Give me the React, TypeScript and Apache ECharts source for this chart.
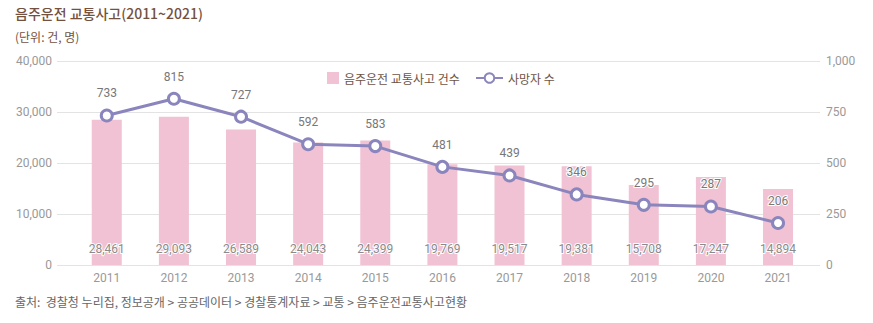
import React, { useEffect, useRef } from "react";
import * as echarts from "echarts";

const years = ["2011", "2012", "2013", "2014", "2015", "2016", "2017", "2018", "2019", "2020", "2021"];
const accidents = [28461, 29093, 26589, 24043, 24399, 19769, 19517, 19381, 15708, 17247, 14894];
const deaths = [733, 815, 727, 592, 583, 481, 439, 346, 295, 287, 206];
const leftTicks = { min: 0, max: 40000, interval: 10000 };
const rightTicks = { min: 0, max: 1000, interval: 250 };

const barName = "음주운전 교통사고 건수";
const lineName = "사망자 수";

const numFont = "Roboto, 'Noto Sans', sans-serif";
const krFont = "'Noto Sans CJK KR', 'Noto Sans', sans-serif";

export default function App() {
  const ref = useRef<HTMLDivElement>(null);
  useEffect(() => {
    if (!ref.current) return;
    const chart = echarts.init(ref.current, undefined, { renderer: "svg" });
    const fmt = (v: number) => v.toLocaleString("en-US");
    const gridTop = 61;
    const gridBottom = 58;
    chart.setOption({
      animation: false,
      backgroundColor: "#fff",
      title: [
        {
          text: "음주운전 교통사고(2011~2021)",
          left: 10,
          top: 1,
          textStyle: { fontFamily: krFont, fontSize: 14, fontWeight: 500, color: "#74513f" },
        },
        {
          text: "(단위: 건, 명)",
          left: 10,
          top: 25,
          textStyle: { fontFamily: krFont, fontSize: 12, fontWeight: "normal", color: "#74513f" },
        },
        {
          text: "출처:  경찰청 누리집, 정보공개 > 공공데이터 > 경찰통계자료 > 교통 > 음주운전교통사고현황",
          left: 10,
          top: 290,
          textStyle: { fontFamily: krFont, fontSize: 12, fontWeight: "normal", color: "#666" },
        },
      ],
      legend: [
        {
          data: [{ name: barName, icon: "rect" }],
          left: 322,
          top: 67,
          itemWidth: 12,
          itemHeight: 12,
          itemGap: 4,
          textStyle: { fontFamily: krFont, fontSize: 12, color: "#6e5446" },
        },
        {
          data: [{ name: lineName }],
          left: 470,
          top: 67,
          itemWidth: 27,
          itemHeight: 12,
          textStyle: { fontFamily: krFont, fontSize: 12, color: "#6e5446" },
        },
      ],
      grid: [
        { left: 57, right: 53, top: gridTop, bottom: gridBottom },
        { left: 73.2, right: 61.4, top: gridTop, bottom: gridBottom },
      ],
      xAxis: [
        { type: "category", gridIndex: 0, data: years, show: false },
        {
          type: "category",
          gridIndex: 1,
          data: years,
          axisLine: { show: false },
          axisTick: { show: false },
          axisLabel: { color: "#999", fontFamily: numFont, fontSize: 12, margin: 7 },
        },
      ],
      yAxis: [
        {
          type: "value",
          gridIndex: 0,
          position: "left",
          ...leftTicks,
          axisLine: { show: false },
          axisTick: { show: false },
          axisLabel: { color: "#999", fontFamily: numFont, fontSize: 12, margin: 5, formatter: fmt },
          splitLine: { show: true, lineStyle: { color: "#e3e3e3", width: 1 } },
        },
        {
          type: "value",
          gridIndex: 0,
          position: "right",
          ...rightTicks,
          axisLine: { show: false },
          axisTick: { show: false },
          axisLabel: { color: "#999", fontFamily: numFont, fontSize: 12, margin: 6, formatter: fmt },
          splitLine: { show: false },
        },
        { type: "value", gridIndex: 1, ...leftTicks, show: false, splitLine: { show: false } },
        { type: "value", gridIndex: 1, position: "right", ...rightTicks, show: false, splitLine: { show: false } },
      ],
      series: [
        {
          name: barName,
          type: "bar",
          xAxisIndex: 1,
          yAxisIndex: 2,
          data: accidents,
          barWidth: 30,
          itemStyle: { color: "#f1c2d3" },
          label: {
            show: true,
            position: "insideBottom",
            distance: 10,
            formatter: (p: any) => fmt(p.value),
            color: "#8a8a8a",
            fontFamily: numFont,
            fontSize: 12,
            textBorderColor: "#fff",
            textBorderWidth: 2,
          },
          z: 2,
        },
        {
          name: lineName,
          type: "line",
          xAxisIndex: 1,
          yAxisIndex: 3,
          data: deaths,
          symbol: "circle",
          symbolSize: 11,
          lineStyle: { color: "#8a86bd", width: 3 },
          itemStyle: { color: "#fff", borderColor: "#8a86bd", borderWidth: 3 },
          label: {
            show: true,
            position: "top",
            distance: 9,
            color: "#777",
            fontFamily: numFont,
            fontSize: 12,
            textBorderColor: "#fff",
            textBorderWidth: 2,
          },
          z: 3,
        },
      ],
    });
    return () => chart.dispose();
  }, []);
  return <div ref={ref} style={{ width: 873, height: 323, margin: -8 }} />;
}
